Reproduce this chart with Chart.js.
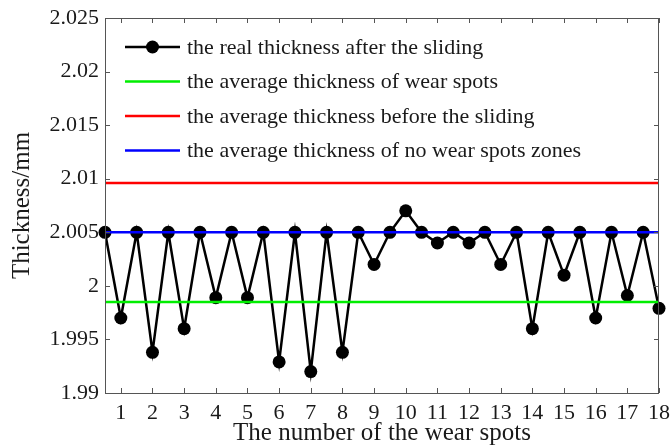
<!DOCTYPE html>
<html>
<head>
<meta charset="utf-8">
<script src="https://cdn.jsdelivr.net/npm/chart.js@4"></script>
<style>
  html, body { margin: 0; padding: 0; background: #fff; }
  #wrap { width: 671px; height: 448px; }
</style>
</head>
<body>
<div id="wrap"><canvas id="thicknessChart"></canvas></div>
<script>
// spot positions (x) and measured thickness after sliding (y)
const spotPositions = [0.5, 1, 1.5, 2, 2.5, 3, 3.5, 4, 4.5, 5, 5.5, 6, 6.5, 7, 7.5, 8, 8.5, 9,
                       9.5, 10, 10.5, 11, 11.5, 12, 12.5, 13, 13.5, 14, 14.5, 15, 15.5, 16, 16.5, 17, 17.5, 18];
const realThickness = [2.005, 1.997, 2.005, 1.9938, 2.005, 1.996, 2.005, 1.9989, 2.005, 1.9989, 2.005, 1.9929,
                       2.005, 1.992, 2.005, 1.9938, 2.005, 2.002, 2.005, 2.007, 2.005, 2.004, 2.005, 2.004,
                       2.005, 2.002, 2.005, 1.996, 2.005, 2.001, 2.005, 1.997, 2.005, 1.9991, 2.005, 1.9979];

const avgWearSpots = 1.9985;
const avgBefore = 2.0096;
const avgNoWear = 2.005;

const xTicks = [1, 2, 3, 4, 5, 6, 7, 8, 9, 10, 11, 12, 13, 14, 15, 16, 17, 18];
const yTicks = [1.99, 1.995, 2, 2.005, 2.01, 2.015, 2.02, 2.025];
const yTickLabels = ["1.99", "1.995", "2", "2.005", "2.01", "2.015", "2.02", "2.025"];

const seriesLabels = [
    "the real thickness after the sliding",
    "the average thickness of wear spots",
    "the average thickness before the sliding",
    "the average thickness of no wear spots zones"
];

const FONT = "'Liberation Serif', 'Times New Roman', serif";
const X_MIN = 0.5, X_MAX = 18;

function flatLine(v) {
    return [{ x: X_MIN, y: v }, { x: X_MAX, y: v }];
}

// frame + inward tick marks on all four sides
const framePlugin = {
    id: "frame",
    afterDatasetsDraw(chart) {
        const { ctx, chartArea: a, scales } = chart;
        ctx.save();
        ctx.strokeStyle = "#555";
        ctx.lineWidth = 1;
        ctx.strokeRect(a.left + 0.5, a.top + 0.5, a.right - a.left - 1, a.bottom - a.top);
        ctx.beginPath();
        const len = 5;
        xTicks.forEach(t => {
            const px = Math.round(scales.x.getPixelForValue(t)) + 0.5;
            ctx.moveTo(px, a.bottom); ctx.lineTo(px, a.bottom - len);
            ctx.moveTo(px, a.top); ctx.lineTo(px, a.top + len);
        });
        yTicks.forEach(t => {
            const py = Math.round(scales.y.getPixelForValue(t)) + 0.5;
            ctx.moveTo(a.left, py); ctx.lineTo(a.left + len, py);
            ctx.moveTo(a.right, py); ctx.lineTo(a.right - len, py);
        });
        ctx.stroke();
        ctx.restore();
    }
};

// legend drawn inside the plot, top-left, no box
const insideLegend = {
    id: "insideLegend",
    afterDraw(chart) {
        const { ctx, chartArea: a } = chart;
        const x0 = a.left + 20, x1 = a.left + 75, tx = a.left + 82;
        ctx.save();
        ctx.font = "22px " + FONT;
        ctx.textBaseline = "middle";
        chart.data.datasets.forEach((ds, i) => {
            const y = a.top + 29 + i * 34.5;
            ctx.strokeStyle = ds.borderColor;
            ctx.lineWidth = 2.5;
            ctx.beginPath();
            ctx.moveTo(x0, y); ctx.lineTo(x1, y);
            ctx.stroke();
            if (ds.pointRadius > 0) {
                ctx.fillStyle = ds.pointBackgroundColor;
                ctx.beginPath();
                ctx.arc((x0 + x1) / 2, y, 6.5, 0, Math.PI * 2);
                ctx.fill();
            }
            ctx.fillStyle = "#1a1a1a";
            ctx.fillText(ds.label, tx, y + 1);
        });
        ctx.restore();
    }
};

new Chart(document.getElementById("thicknessChart"), {
    type: "line",
    data: {
        datasets: [
            {
                label: seriesLabels[0],
                data: spotPositions.map((x, i) => ({ x, y: realThickness[i] })),
                borderColor: "#000",
                borderWidth: 2.5,
                pointRadius: 6.5,
                pointBackgroundColor: "#000",
                pointBorderColor: "#000",
                pointBorderWidth: 0,
                order: 4
            },
            {
                label: seriesLabels[1],
                data: flatLine(avgWearSpots),
                borderColor: "#00ee00",
                borderWidth: 2.5,
                pointRadius: 0
            },
            {
                label: seriesLabels[2],
                data: flatLine(avgBefore),
                borderColor: "#ff0000",
                borderWidth: 2.5,
                pointRadius: 0
            },
            {
                label: seriesLabels[3],
                data: flatLine(avgNoWear),
                borderColor: "#0000ff",
                borderWidth: 2.5,
                pointRadius: 0
            }
        ]
    },
    options: {
        responsive: true,
        maintainAspectRatio: false,
        animation: false,
        clip: false,
        layout: { padding: { left: 0, right: 12, top: 18, bottom: 0 } },
        plugins: {
            legend: { display: false },
            tooltip: { enabled: false }
        },
        scales: {
            x: {
                type: "linear",
                min: X_MIN,
                max: X_MAX,
                afterBuildTicks: s => { s.ticks = xTicks.map(v => ({ value: v })); },
                afterFit: s => { s.height = 55; s.paddingLeft = 0; s.paddingRight = 0; },
                grid: { display: false, drawTicks: false },
                border: { display: false },
                ticks: {
                    padding: 7,
                    color: "#1a1a1a",
                    font: { family: FONT, size: 22 },
                    maxRotation: 0,
                    autoSkip: false,
                    callback: v => String(v)
                },
                title: {
                    display: true,
                    text: "The number of the wear spots",
                    color: "#1a1a1a",
                    font: { family: FONT, size: 25 },
                    padding: { top: 0, bottom: 0 }
                }
            },
            y: {
                min: 1.99,
                max: 2.025,
                afterBuildTicks: s => { s.ticks = yTicks.map(v => ({ value: v })); },
                afterFit: s => { s.width = 105; s.paddingTop = 0; s.paddingBottom = 0; },
                grid: { display: false, drawTicks: false },
                border: { display: false },
                ticks: {
                    padding: 6,
                    color: "#1a1a1a",
                    font: { family: FONT, size: 22 },
                    autoSkip: false,
                    callback: v => yTickLabels[yTicks.findIndex(t => Math.abs(t - v) < 1e-9)]
                },
                title: {
                    display: true,
                    text: "Thickness/mm",
                    color: "#1a1a1a",
                    font: { family: FONT, size: 25 },
                    padding: { top: 7, bottom: 0 }
                }
            }
        }
    },
    plugins: [framePlugin, insideLegend]
});
</script>
</body>
</html>
